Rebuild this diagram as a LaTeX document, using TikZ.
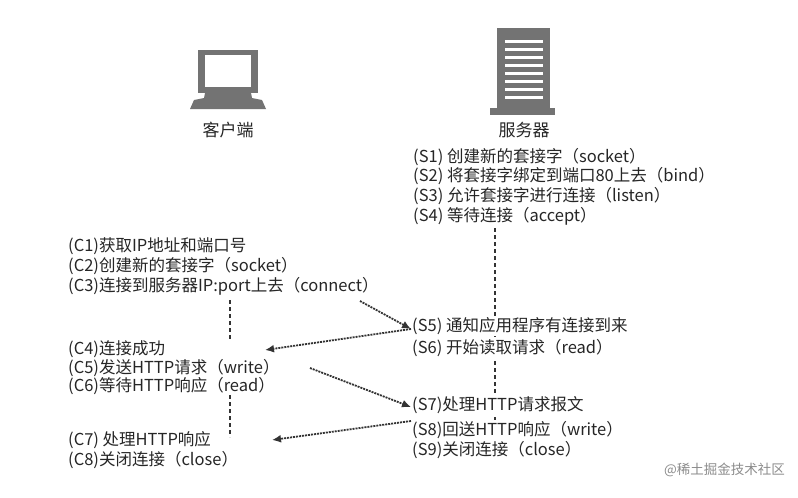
\documentclass[tikz,border=0pt]{standalone}
\usepackage{fontspec}
\setmainfont{Noto Sans CJK SC}
\usetikzlibrary{arrows.meta}
\begin{document}
\begin{tikzpicture}[x=1pt,y=-1pt,
  txt/.style={anchor=west,inner sep=0pt,font=\fontsize{16.5}{18}\selectfont,text=black!85},
  lbl/.style={inner sep=0pt,font=\fontsize{17}{19}\selectfont,text=black!85},
  dline/.style={black!80,line width=2pt,dash pattern=on 4pt off 3pt},
  darr/.style={black!80,line width=1.8pt,dash pattern=on 2pt off 1pt,-{Latex[length=9pt,width=8pt]}},
  icon/.style={fill=black!55,draw=none}]
\useasboundingbox (0,0) rectangle (798,498);
\fill[white] (0,0) rectangle (798,498);
% computer
\fill[icon] (198,50) rectangle (258,93);
\fill[white] (205,55) rectangle (251,87);
\fill[icon] (205,93) -- (251,93) -- (252,98) -- (262,100) -- (266,109) -- (190,109) -- (194,100) -- (204,98) -- cycle;
\node[lbl] (client) at (228,130) {客户端};
% server
\fill[icon] (497,28) rectangle (550,108);
\fill[icon] (490,108) rectangle (555,115);
\foreach \yy in {40,48,...,100} \fill[white] (505,\yy) rectangle (543,\yy+2.5);
\node[lbl] (server) at (524,130) {服务器};
% server text
\node[txt] (s1) at (413,157) {(S1)\ 创建新的套接字（socket）};
\node[txt] (s2) at (413,176) {(S2)\ 将套接字绑定到端口80上去（bind）};
\node[txt] (s3) at (413,196) {(S3)\ 允许套接字进行连接（listen）};
\node[txt] (s4) at (413,216) {(S4)\ 等待连接（accept）};
\coordinate (sv1) at (495,228);
\coordinate (sv2) at (495,432);
\draw[dline] (sv1) -- (sv2);
% client text
\node[txt] (c1) at (68,246) {(C1)获取IP地址和端口号};
\node[txt] (c2) at (68,266) {(C2)创建新的套接字（socket）};
\node[txt] (c3) at (68,286) {(C3)连接到服务器IP:port上去（connect）};
\coordinate (cv1) at (230,300);
\coordinate (cv2) at (230,340);
\draw[dline] (cv1) -- (cv2);
\coordinate (cv3) at (230,395);
\coordinate (cv4) at (230,437);
\draw[dline] (cv3) -- (cv4);
\node[txt,fill=white,inner sep=1pt] (s5) at (411,326) {(S5)\ 通知应用程序有连接到来};
\node[txt,fill=white,inner sep=1pt] (s6) at (411,348) {(S6)\ 开始读取请求（read）};
\node[txt] (c4) at (68,349) {(C4)连接成功};
\node[txt] (c5) at (68,368) {(C5)发送HTTP请求（write）};
\node[txt] (c6) at (68,386) {(C6)等待HTTP响应（read）};
\node[txt,fill=white,inner sep=1pt] (s7) at (411,405) {(S7)处理HTTP请求报文};
\node[txt,fill=white,inner sep=1pt] (s8) at (411,430) {(S8)回送HTTP响应（write）};
\node[txt,fill=white,inner sep=1pt] (s9) at (411,450) {(S9)关闭连接（close）};
\node[txt] (c7) at (68,440) {(C7)\ 处理HTTP响应};
\node[txt] (c8) at (68,460) {(C8)关闭连接（close）};
\coordinate (a1s) at (360,301);
\coordinate (a2e) at (265,350);
\coordinate (a3s) at (310,368);
\coordinate (a4e) at (272,440);
\draw[darr] (a1s) -- ([yshift=-3]s5.west);
\draw[darr] ([yshift=-3]s5.west) -- (a2e);
\draw[darr] (a3s) -- ([yshift=-2]s7.west);
\draw[darr] ([yshift=9]s8.west) -- (a4e);
\node[anchor=east,inner sep=0pt,font=\fontsize{13.5}{15}\selectfont,text=black!45] (wm) at (785,470) {@稀土掘金技术社区};
\end{tikzpicture}
\end{document}
